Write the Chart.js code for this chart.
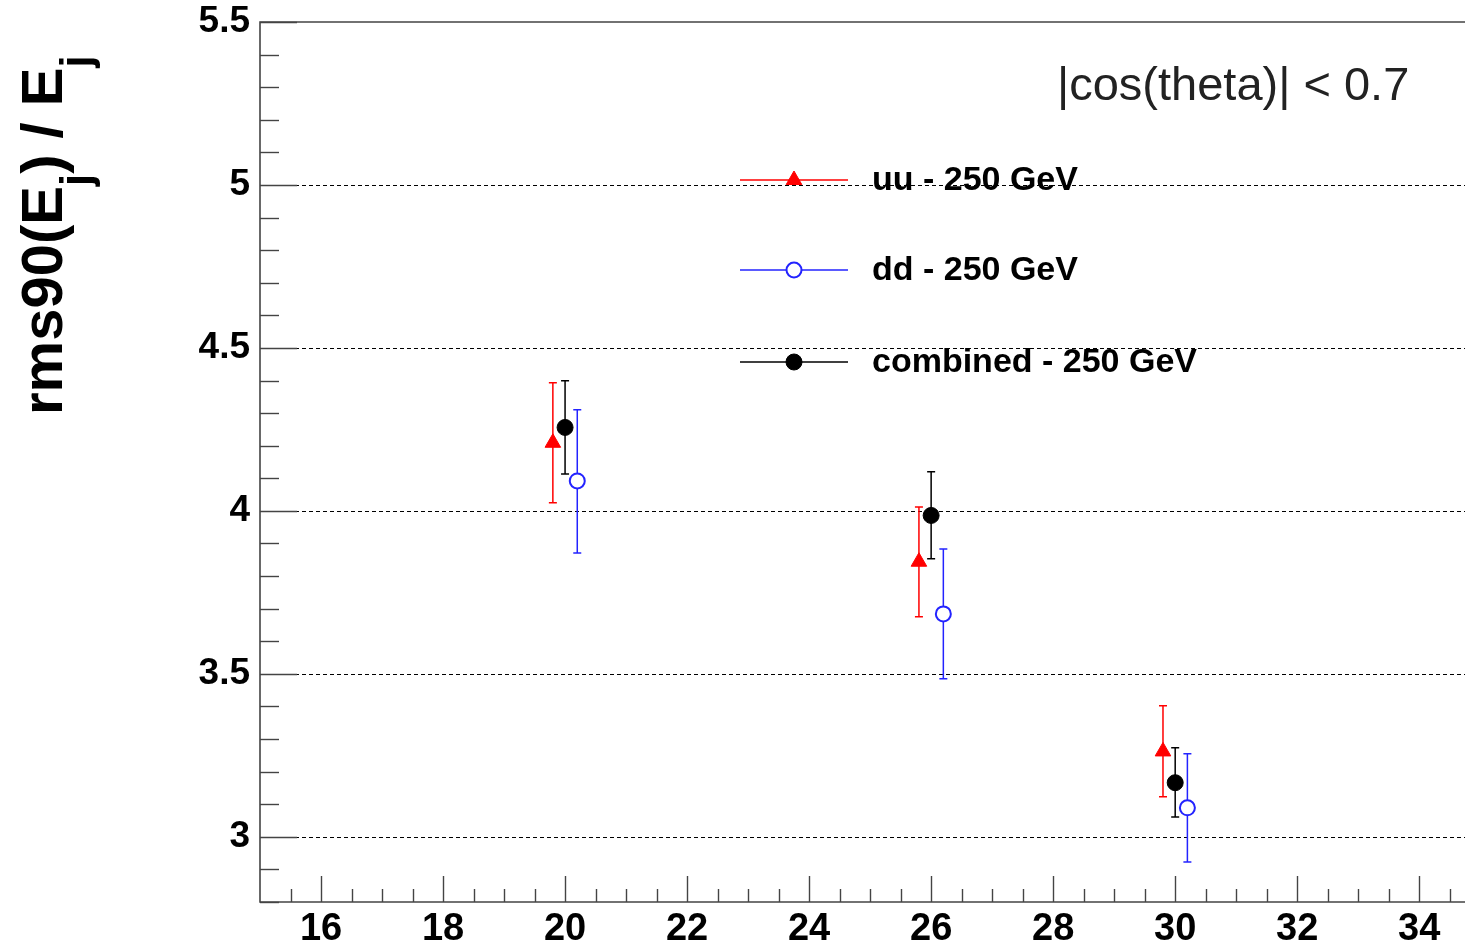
<!DOCTYPE html>
<html>
<head>
<meta charset="utf-8">
<title>rms90 vs energia</title>
<script src="https://cdn.jsdelivr.net/npm/chart.js@4.4.0/dist/chart.umd.min.js"></script>
<style>
    html, body { margin: 0; padding: 0; background: #fff; }
    #wrap { width: 1465px; height: 946px; }
</style>
</head>
<body>
<div id="wrap"><canvas id="rmsChart" width="1465" height="946"></canvas></div>
<script>
// Dados
const uuX = [19.8, 25.8, 29.8];
const uuY = [4.209, 3.844, 3.262];
const uuLow = [4.025, 3.675, 3.123];
const uuHigh = [4.393, 4.012, 3.402];

const ddX = [20.2, 26.2, 30.2];
const ddY = [4.092, 3.684, 3.089];
const ddLow = [3.871, 3.485, 2.923];
const ddHigh = [4.310, 3.883, 3.255];

const combX = [20, 26, 30];
const combY = [4.256, 3.986, 3.166];
const combLow = [4.113, 3.853, 3.061];
const combHigh = [4.399, 4.120, 3.273];

const seriesLabels = ["uu - 250 GeV", "dd - 250 GeV", "combined - 250 GeV"];
const xTickLabels = [16, 18, 20, 22, 24, 26, 28, 30, 32, 34];
const yTickLabels = [3, 3.5, 4, 4.5, 5, 5.5];
const cutLabel = "|cos(theta)| < 0.7";

const FONT = '"Liberation Sans", Arial, sans-serif';

// Junta x e y em pontos para o Chart.js
function toPoints(xs, ys) {
    return xs.map((x, i) => ({ x: x, y: ys[i] }));
}

// Barras de erro, linhas de grade, marcas dos eixos e textos extras
const rootStylePlugin = {
    id: "rootStyle",
    beforeDatasetsDraw(chart) {
        const ctx = chart.ctx;
        const area = chart.chartArea;
        const xs = chart.scales.x;
        const ys = chart.scales.y;

        ctx.save();

        // Linhas de grade tracejadas (menos a do topo)
        ctx.strokeStyle = "#000";
        ctx.lineWidth = 1;
        ctx.setLineDash([4, 3]);
        yTickLabels.forEach(v => {
            if (v >= ys.max) return;
            const py = Math.round(ys.getPixelForValue(v)) + 0.5;
            ctx.beginPath();
            ctx.moveTo(area.left, py);
            ctx.lineTo(area.right, py);
            ctx.stroke();
        });
        ctx.setLineDash([]);

        // Moldura
        ctx.strokeStyle = "#444";
        ctx.lineWidth = 1.6;
        ctx.beginPath();
        ctx.moveTo(area.right, area.top);
        ctx.lineTo(area.left, area.top);
        ctx.lineTo(area.left, area.bottom);
        ctx.lineTo(area.right, area.bottom);
        ctx.stroke();

        // Marcas do eixo y (maiores a cada 0.5, menores a cada 0.1)
        ctx.lineWidth = 1.4;
        for (let k = 28; k <= 55; k++) {
            const v = k / 10;
            const py = Math.round(ys.getPixelForValue(v)) + 0.5;
            const len = (k % 5 === 0) ? 37 : 19;
            ctx.beginPath();
            ctx.moveTo(area.left, py);
            ctx.lineTo(area.left + len, py);
            ctx.stroke();
        }

        // Marcas do eixo x (maiores a cada 2, menores a cada 0.5)
        for (let k = 31; k <= 69; k++) {
            const v = k / 2;
            const px = Math.round(xs.getPixelForValue(v)) + 0.5;
            const len = (k % 4 === 0) ? 26 : 13;
            ctx.beginPath();
            ctx.moveTo(px, area.bottom);
            ctx.lineTo(px, area.bottom - len);
            ctx.stroke();
        }

        // Barras de erro verticais com traço nas pontas
        chart.data.datasets.forEach(ds => {
            ctx.strokeStyle = ds.borderColor;
            ctx.lineWidth = 1.5;
            ds.data.forEach((p, i) => {
                const px = xs.getPixelForValue(p.x);
                const pLow = ys.getPixelForValue(ds.errLow[i]);
                const pHigh = ys.getPixelForValue(ds.errHigh[i]);
                ctx.beginPath();
                ctx.moveTo(px, pLow);
                ctx.lineTo(px, pHigh);
                ctx.moveTo(px - 4, pLow);
                ctx.lineTo(px + 4, pLow);
                ctx.moveTo(px - 4, pHigh);
                ctx.lineTo(px + 4, pHigh);
                ctx.stroke();
            });
        });

        ctx.restore();
    },
    afterDraw(chart) {
        const ctx = chart.ctx;
        ctx.save();

        // Legenda dentro da área do gráfico
        const rowsY = [180, 270, 362];
        chart.data.datasets.forEach((ds, i) => {
            const y = rowsY[i];
            ctx.strokeStyle = ds.borderColor;
            ctx.lineWidth = 1.5;
            ctx.beginPath();
            ctx.moveTo(740, y);
            ctx.lineTo(848, y);
            ctx.stroke();

            ctx.fillStyle = ds.backgroundColor;
            ctx.lineWidth = ds.borderWidth;
            Chart.helpers.drawPoint(ctx, {
                pointStyle: ds.pointStyle,
                radius: ds.pointRadius,
                rotation: 0,
                borderWidth: ds.borderWidth
            }, 794, y);

            ctx.fillStyle = "#000";
            ctx.font = "bold 34px " + FONT;
            ctx.textAlign = "left";
            ctx.textBaseline = "middle";
            ctx.fillText(ds.label, 872, y + 1);
        });

        // Texto do corte angular
        ctx.fillStyle = "#222";
        ctx.font = "47px " + FONT;
        ctx.textAlign = "left";
        ctx.textBaseline = "alphabetic";
        ctx.fillText(cutLabel, 1057, 100);

        // Título do eixo y com subscritos
        ctx.translate(62, 415);
        ctx.rotate(-Math.PI / 2);
        ctx.fillStyle = "#000";
        const mainFont = "bold 58px " + FONT;
        const subFont = "bold 44px " + FONT;
        const parts = [
            { t: "rms90(E", sub: false },
            { t: "j", sub: true },
            { t: ") / E", sub: false },
            { t: "j", sub: true }
        ];
        let pos = 0;
        parts.forEach(part => {
            ctx.font = part.sub ? subFont : mainFont;
            ctx.fillText(part.t, pos, part.sub ? 29 : 0);
            pos += ctx.measureText(part.t).width;
        });

        ctx.restore();
    }
};

const ctx = document.getElementById("rmsChart").getContext("2d");

new Chart(ctx, {
    type: "scatter",
    data: {
        datasets: [
            {
                label: seriesLabels[0],
                data: toPoints(uuX, uuY),
                errLow: uuLow,
                errHigh: uuHigh,
                pointStyle: "triangle",
                pointRadius: 9,
                borderWidth: 1,
                borderColor: "#ff0000",
                backgroundColor: "#ff0000"
            },
            {
                label: seriesLabels[1],
                data: toPoints(ddX, ddY),
                errLow: ddLow,
                errHigh: ddHigh,
                pointStyle: "circle",
                pointRadius: 7.5,
                borderWidth: 2,
                borderColor: "#2323ff",
                backgroundColor: "#ffffff"
            },
            {
                label: seriesLabels[2],
                data: toPoints(combX, combY),
                errLow: combLow,
                errHigh: combHigh,
                pointStyle: "circle",
                pointRadius: 8,
                borderWidth: 1,
                borderColor: "#000000",
                backgroundColor: "#000000"
            }
        ]
    },
    options: {
        responsive: false,
        animation: false,
        events: [],
        layout: {
            autoPadding: false,
            padding: { top: 22, right: 0, bottom: 0, left: 0 }
        },
        plugins: {
            legend: { display: false },
            tooltip: { enabled: false }
        },
        scales: {
            x: {
                type: "linear",
                min: 15,
                max: 34.75,
                grid: { display: false, drawTicks: false },
                border: { display: false },
                afterBuildTicks: scale => {
                    scale.ticks = xTickLabels.map(v => ({ value: v }));
                },
                afterFit: scale => {
                    scale.height = 44;
                    // sem folga extra para os rótulos nas pontas
                    scale.paddingLeft = 0;
                    scale.paddingRight = 0;
                },
                ticks: {
                    color: "#000",
                    padding: 5,
                    maxRotation: 0,
                    autoSkip: false,
                    font: { family: FONT, size: 38, weight: "bold" }
                }
            },
            y: {
                type: "linear",
                min: 2.8,
                max: 5.5,
                grid: { display: false, drawTicks: false },
                border: { display: false },
                afterBuildTicks: scale => {
                    scale.ticks = yTickLabels.map(v => ({ value: v }));
                },
                afterFit: scale => {
                    scale.width = 260;
                    scale.paddingTop = 0;
                    scale.paddingBottom = 0;
                },
                ticks: {
                    color: "#000",
                    padding: 10,
                    autoSkip: false,
                    font: { family: FONT, size: 37, weight: "bold" },
                    callback: v => String(v)
                }
            }
        }
    },
    plugins: [rootStylePlugin]
});
</script>
</body>
</html>
